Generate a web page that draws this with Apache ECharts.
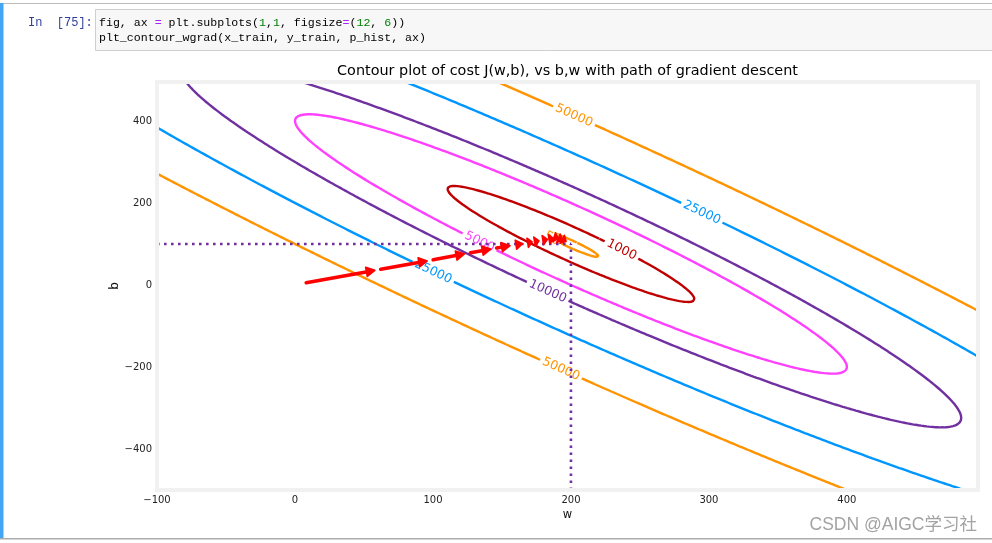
<!DOCTYPE html>
<html><head><meta charset="utf-8">
<script src="https://cdn.jsdelivr.net/npm/echarts@6/dist/echarts.min.js"></script>
<style>html,body{margin:0;padding:0;background:#fff;}#c{width:992px;height:543px;}</style>
</head><body><div id="c"></div>
<script>
// ---- data ----
const x_train = [1.0, 2.0];
const y_train = [300.0, 500.0];
const contourLevels = [0.1, 50, 1000, 5000, 10000, 25000, 50000];
const contourColors = ['#0096FF', '#FF9300', '#C00000', '#FF40FF', '#7030A0', '#0096FF', '#FF9300'];
// inline contour labels: level and approximate (w, b) where each label sits
const labelLevels = [50, 1000, 5000, 10000, 25000, 25000, 50000, 50000];
const labelW = [189.9, 237.7, 135.5, 183.3, 100.0, 297.1, 202.2, 192.8];
const labelB = [109.8, 85.4, 104.9, -14.6, 31.7, 178.0, 409.8, -202.4];
// gradient descent path (w, b)
const pathW = [6, 60, 98, 125, 144, 158, 167, 174, 179, 185, 189.5, 193, 196, 198.4];
const pathB = [4, 37, 60, 77, 89, 97, 102, 106, 109, 112, 114.7, 111, 107, 102.6];
const wFinal = 200, bFinal = 100;
const wRange = [-100, 495];
const bRange = [-500, 495];
const xTicks = [-100, 0, 100, 200, 300, 400];
const yTicks = [-400, -200, 0, 200, 400];

// ---- cost surface J(w,b) = 1/(2m) * sum (w x + b - y)^2 as a quadratic form ----
const m = x_train.length;
let Sxx = 0, Sx = 0, Sxy = 0, Sy = 0;
for (let i = 0; i < m; i++) { Sxx += x_train[i] * x_train[i]; Sx += x_train[i]; Sxy += x_train[i] * y_train[i]; Sy += y_train[i]; }
const M = [[Sxx, Sx], [Sx, m]];
const det = Sxx * m - Sx * Sx;
const wStar = (m * Sxy - Sx * Sy) / det;
const bStar = (Sxx * Sy - Sx * Sxy) / det;
function cost(w, b) { let s = 0; for (let i = 0; i < m; i++) { const d = w * x_train[i] + b - y_train[i]; s += d * d; } return s / (2 * m); }
const Jmin = cost(wStar, bStar);
const tr = (M[0][0] + M[1][1]) / 2, dif = Math.sqrt(((M[0][0] - M[1][1]) / 2) ** 2 + M[0][1] ** 2);
const lam = [tr + dif, tr - dif];
const vecs = lam.map(l => { const v = [M[0][1], l - M[0][0]]; const n = Math.hypot(v[0], v[1]); return [v[0] / n, v[1] / n]; });
function quad(e) { return M[0][0] * e[0] * e[0] + 2 * M[0][1] * e[0] * e[1] + M[1][1] * e[1] * e[1]; }
function levelCurve(L) {
  const Q = 2 * m * (L - Jmin);
  const r0 = Math.sqrt(Q / lam[0]), r1 = Math.sqrt(Q / lam[1]);
  const pts = []; const N = 2400;
  for (let k = 0; k <= N; k++) {
    const t = 2 * Math.PI * k / N;
    const a = r0 * Math.cos(t), c = r1 * Math.sin(t);
    pts.push([wStar + a * vecs[0][0] + c * vecs[1][0], bStar + a * vecs[0][1] + c * vecs[1][1]]);
  }
  return pts;
}
function onLevel(w, b, L) {
  const e = [w - wStar, b - bStar];
  const s = Math.sqrt(2 * m * (L - Jmin) / quad(e));
  return [wStar + e[0] * s, bStar + e[1] * s];
}
const fmt = v => (v < 0 ? '\u2212' + Math.abs(v) : String(v));

const contourSeries = contourLevels.map((L, i) => ({
  type: 'line', data: levelCurve(L), symbol: 'none', silent: true, clip: true, z: 2,
  lineStyle: { width: 2.4, color: contourColors[i] }
}));

const labelData = labelLevels.map((L, i) => { const p = onLevel(labelW[i], labelB[i], L); return [p[0], p[1], L]; });
const labelSeries = {
  type: 'custom', z: 3, silent: true, data: labelData,
  renderItem: (params, api) => {
    const w = api.value(0), b = api.value(1), L = api.value(2);
    const p = api.coord([w, b]);
    const e = [w - wStar, b - bStar];
    const g = [M[0][0] * e[0] + M[0][1] * e[1], M[1][0] * e[0] + M[1][1] * e[1]];
    const t = [-g[1], g[0]]; const n = Math.hypot(t[0], t[1]);
    const q = api.coord([w + t[0] / n, b + t[1] / n]);
    let ang = Math.atan2(q[1] - p[1], q[0] - p[0]);
    if (ang > Math.PI / 2) ang -= Math.PI;
    if (ang < -Math.PI / 2) ang += Math.PI;
    const color = contourColors[contourLevels.indexOf(L)];
    return {
      type: 'text', x: p[0], y: p[1], rotation: -ang,
      style: { text: String(L), fill: color, fontSize: 12.5, fontFamily: 'DejaVu Sans',
        align: 'center', verticalAlign: 'middle', backgroundColor: '#ffffff', padding: [0, 3] }
    };
  }
};

const guideStyle = { width: 2.6, color: '#7030A0', type: [2.6, 4.4], cap: 'butt' };
const guideSeries = [
  { type: 'line', data: [[wRange[0], bFinal], [wFinal, bFinal]], symbol: 'none', silent: true, z: 4, lineStyle: guideStyle },
  { type: 'line', data: [[wFinal, bRange[0]], [wFinal, bFinal]], symbol: 'none', silent: true, z: 4, lineStyle: guideStyle }
];

const arrowData = [];
for (let i = 1; i < pathW.length; i++) arrowData.push([pathW[i - 1], pathB[i - 1], pathW[i], pathB[i]]);
const arrowSeries = {
  type: 'custom', z: 5, silent: true, data: arrowData,
  renderItem: (params, api) => {
    const a = api.coord([api.value(0), api.value(1)]);
    const b = api.coord([api.value(2), api.value(3)]);
    const dx = b[0] - a[0], dy = b[1] - a[1]; const Ln = Math.hypot(dx, dy);
    const ux = dx / Ln, uy = dy / Ln;
    const sh = 3;
    const s = [a[0] + ux * sh, a[1] + uy * sh], t = [b[0] - ux * sh, b[1] - uy * sh];
    const avail = Ln - 2 * sh;
    const hl = Math.min(8.5, Math.max(avail, 4.5)), hw = 4.6;
    const base = [t[0] - ux * hl, t[1] - uy * hl];
    const children = [];
    if (avail > hl) {
      children.push({ type: 'line', shape: { x1: s[0], y1: s[1], x2: base[0] + ux, y2: base[1] + uy },
        style: { stroke: '#ff0000', lineWidth: 3.6, lineCap: 'round' } });
    }
    children.push({ type: 'polygon', shape: { points: [t, [base[0] - uy * hw, base[1] + ux * hw], [base[0] + uy * hw, base[1] - ux * hw]] },
      style: { fill: '#ff0000', stroke: '#ff0000', lineWidth: 1.6, lineJoin: 'round' } });
    return { type: 'group', children };
  }
};

const codeRich = {
  t: { fill: '#000000', fontFamily: 'Liberation Mono', fontSize: 11.6 },
  o: { fill: '#AA22FF', fontFamily: 'Liberation Mono', fontSize: 11.6 },
  n: { fill: '#008000', fontFamily: 'Liberation Mono', fontSize: 11.6 }
};

const chart = echarts.init(document.getElementById('c'), null, { renderer: 'canvas' });
chart.setOption({
  animation: false,
  backgroundColor: '#ffffff',
  grid: { left: 157, right: 14, top: 82, bottom: 53, containLabel: false },
  xAxis: {
    type: 'value', min: wRange[0], max: wRange[1], interval: 100,
    axisLine: { show: false }, axisTick: { show: false }, splitLine: { show: false },
    axisLabel: { margin: 5, fontSize: 10, color: '#222', fontFamily: 'DejaVu Sans',
      formatter: v => (xTicks.indexOf(v) >= 0 ? fmt(v) : '') },
    name: 'w', nameLocation: 'middle', nameGap: 19, nameMoveOverlap: false,
    nameTextStyle: { fontSize: 11.5, color: '#111', fontFamily: 'DejaVu Sans' }
  },
  yAxis: {
    type: 'value', min: bRange[0], max: bRange[1], interval: 100,
    axisLine: { show: false }, axisTick: { show: false }, splitLine: { show: false },
    axisLabel: { margin: 5, fontSize: 10, color: '#222', fontFamily: 'DejaVu Sans',
      formatter: v => (yTicks.indexOf(v) >= 0 ? fmt(v) : '') },
    name: 'b', nameLocation: 'middle', nameGap: 36, nameMoveOverlap: false,
    nameTextStyle: { fontSize: 12, color: '#111', fontFamily: 'DejaVu Sans' }
  },
  series: [...contourSeries, labelSeries, ...guideSeries, arrowSeries],
  graphic: [
    { type: 'rect', z: 100, silent: true, shape: { x: 157, y: 82, width: 821, height: 408 },
      style: { fill: 'none', stroke: '#f1f1f1', lineWidth: 4 } },
    { type: 'text', z: 100, x: 567.5, y: 71.5,
      style: { text: 'Contour plot of cost J(w,b), vs b,w with path of gradient descent', fill: '#000',
        fontSize: 14.4, fontFamily: 'DejaVu Sans', align: 'center', verticalAlign: 'middle' } },
    // notebook chrome
    { type: 'rect', z: 90, shape: { x: 0, y: 3, width: 992, height: 1 }, style: { fill: '#bdbdbd' } },
    { type: 'rect', z: 90, shape: { x: 0, y: 3, width: 3.5, height: 535 }, style: { fill: '#42A5F5' } },
    { type: 'rect', z: 90, shape: { x: 0, y: 538, width: 992, height: 1.5 }, style: { fill: '#ababab' } },
    { type: 'rect', z: 90, shape: { x: 95.5, y: 9.5, width: 900, height: 41 }, style: { fill: '#f7f7f7', stroke: '#cfcfcf', lineWidth: 1 } },
    { type: 'text', z: 91, x: 28, y: 23,
      style: { text: 'In  [75]:', fill: '#303F9F', fontFamily: 'Liberation Mono', fontSize: 12, verticalAlign: 'middle' } },
    { type: 'text', z: 91, x: 99, y: 23,
      style: { text: '{t|fig, ax }{o|=}{t| plt.subplots(}{n|1}{t|,}{n|1}{t|, figsize}{o|=}{t|(}{n|12}{t|, }{n|6}{t|))}',
        rich: codeRich, verticalAlign: 'middle' } },
    { type: 'text', z: 91, x: 99, y: 38,
      style: { text: '{t|plt_contour_wgrad(x_train, y_train, p_hist, ax)}', rich: codeRich, verticalAlign: 'middle' } },
    { type: 'text', z: 91, x: 977, y: 525,
      style: { text: 'CSDN @AIGC学习社', fill: '#a3a3a3', fontSize: 17.5,
        fontFamily: '"Liberation Sans", "Noto Sans CJK SC"', align: 'right', verticalAlign: 'middle' } }
  ]
});
</script></body></html>
